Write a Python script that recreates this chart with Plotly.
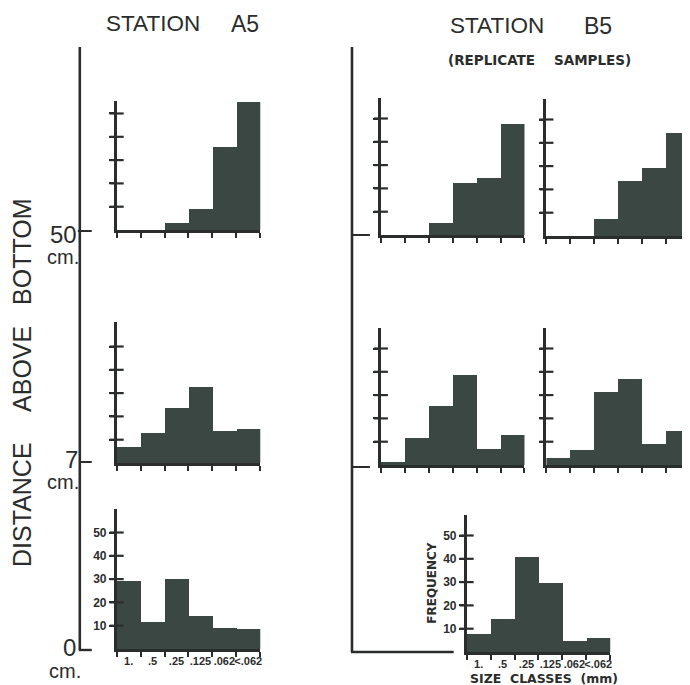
import plotly.graph_objects as go

# ---------------- data ----------------
size_classes = ["1.", ".5", ".25", ".125", ".062", "<.062"]
freq_ticks = [10, 20, 30, 40, 50]
freq_tick_labels = ["10", "20", "30", "40", "50"]

a5_50cm = [0, 0, 3, 9, 35.7, 55]
a5_7cm = [7, 13, 23.6, 32.7, 13.7, 14.6]
a5_0cm = [29, 11.7, 30, 14, 9, 8.5]

b5_50cm_rep1 = [0, 0, 5.3, 22.4, 24.7, 48]
b5_50cm_rep2 = [0, 0, 7.3, 24, 29.3, 44.5]
b5_7cm_rep1 = [1.4, 11.9, 25.7, 39, 6.9, 13.2]
b5_7cm_rep2 = [3.1, 6.7, 31.4, 37.2, 9.3, 15]
b5_0cm = [7.5, 13.9, 40.5, 29.6, 4.7, 6]

height_labels = ["50", "7", "0"]
unit_label = "cm."

# ---------------- layout helpers ----------------
W, H = 690, 685          # page / window size
OFF = 8                  # default body margin of the page
FW, FH = W - OFF, H - OFF
K = 2.33                 # pixels per frequency unit
PW = 144                 # panel width in pixels
INK = "#2b2d2c"
BAR = "#3b4742"
FONT = "Liberation Sans, Arial, sans-serif"
WIDE = "DejaVu Sans, Verdana, sans-serif"


def X(p):
    return (p - OFF) / FW


def Y(p):
    return 1 - (p - OFF) / FH


# panel: (values, left px, bottom px, ymax, show labels)
panels = [
    (a5_50cm, 117, 230, 55.5, False),
    (a5_7cm, 117, 463, 60.5, False),
    (a5_0cm, 117, 649, 60, True),
    (b5_50cm_rep1, 382, 235, 59, False),
    (b5_50cm_rep2, 548, 236, 59, False),
    (b5_7cm_rep1, 382, 465, 59, False),
    (b5_7cm_rep2, 548, 465, 59, False),
    (b5_0cm, 468, 652, 58.6, True),
]

fig = go.Figure()
layout = {}
idx = list(range(len(size_classes)))
bounds = [i - 0.5 for i in range(len(size_classes) + 1)]

for i, (vals, left, bottom, ymax, labeled) in enumerate(panels, start=1):
    right = min(W, left + PW)
    xmax = -0.5 + 6 * (right - left) / PW
    top = bottom - ymax * K
    xa, ya = f"x{i}", f"y{i}"
    fig.add_trace(go.Bar(
        x=idx, y=vals, width=1, xaxis=xa, yaxis=ya,
        marker=dict(color=BAR, line=dict(width=0)),
        hoverinfo="skip", showlegend=False,
    ))
    # crossing tick marks on the frequency axis
    fig.add_trace(go.Scatter(
        x=[-0.5] * len(freq_ticks), y=freq_ticks, xaxis=xa, yaxis=ya,
        mode="markers", cliponaxis=False,
        marker=dict(symbol="line-ew", size=10, line=dict(width=2.2, color=INK)),
        hoverinfo="skip", showlegend=False,
    ))
    layout[f"xaxis{i}"] = dict(
        domain=[X(left), X(right)], anchor=ya, range=[-0.5, xmax],
        showline=True, linecolor=INK, linewidth=2.5,
        tickmode="array", tickvals=idx,
        ticktext=size_classes if labeled else [""] * 6,
        ticks="", tickangle=0, showgrid=False, zeroline=False,
        tickfont=dict(family=FONT, size=11, color=INK, weight="bold"),
        minor=dict(tickmode="array", tickvals=bounds, ticks="outside",
                   ticklen=5, tickwidth=2, tickcolor=INK, showgrid=False),
        fixedrange=True,
    )
    layout[f"yaxis{i}"] = dict(
        domain=[Y(bottom), Y(top)], anchor=xa, range=[0, ymax],
        showline=True, linecolor=INK, linewidth=2.5,
        tickmode="array", tickvals=freq_ticks, ticktext=freq_tick_labels,
        showticklabels=labeled, ticks="outside", ticklen=5, tickwidth=2,
        tickcolor=INK, showgrid=False, zeroline=False,
        tickfont=dict(family=FONT, size=12, color=INK, weight="bold"),
        fixedrange=True,
    )

# ---------------- frame lines ----------------
shapes = []


def seg(x0, y0, x1, y1, w=2.6):
    shapes.append(dict(type="line", xref="paper", yref="paper",
                       x0=X(x0), y0=Y(y0), x1=X(x1), y1=Y(y1),
                       line=dict(color=INK, width=w)))


# Station A5 distance axis
seg(80, 47, 80, 650)
seg(78, 231, 92, 231, 2)
seg(80, 462, 92, 462, 2)
seg(79, 650, 92, 650, 2.4)
# Station B5 distance axis
seg(353, 47, 353, 652)
seg(352, 652, 455, 652, 2.4)
seg(353, 235, 371, 235, 2)
seg(353, 467, 371, 467, 2)

# ---------------- text ----------------
ann = []


def text(t, x, y, size, xanchor="center", yanchor="middle", angle=0,
         bold=False, family=FONT):
    ann.append(dict(text=t, x=X(x), y=Y(y),
                    xref="paper", yref="paper", showarrow=False,
                    xanchor=xanchor, yanchor=yanchor, textangle=angle,
                    borderpad=0,
                    font=dict(family=family, size=size, color=INK,
                              weight="bold" if bold else "normal")))


text("STATION", 105, 24, 22.5, xanchor="left")
text("A5", 231, 24, 23, xanchor="left")
text("STATION", 450, 26, 22.5, xanchor="left")
text("B5", 585, 26, 23, xanchor="left")
text("(REPLICATE", 448, 60, 13.5, xanchor="left", bold=True, family=WIDE)
text("SAMPLES)", 555, 60, 13.5, xanchor="left", bold=True, family=WIDE)

text("BOTTOM", 22, 252, 25, angle=-90)
text("ABOVE", 22, 369, 25, angle=-90)
text("DISTANCE", 22, 504, 25, angle=-90)

text(height_labels[0], 78, 234, 24, xanchor="right")
text(unit_label, 80, 257, 20, xanchor="right")
text(height_labels[1], 79, 459, 24, xanchor="right")
text(unit_label, 80, 482, 20, xanchor="right")
text(height_labels[2], 77, 647, 24, xanchor="right")
text(unit_label, 82, 671, 20, xanchor="right")

text("FREQUENCY", 433, 583, 12, angle=-90, bold=True, family=WIDE)
text("SIZE&nbsp;&nbsp;CLASSES&nbsp;&nbsp;(mm)", 546, 678, 12.5, bold=True, family=WIDE)

layout.update(
    width=FW, height=FH, margin=dict(l=0, r=0, t=0, b=0),
    paper_bgcolor="white", plot_bgcolor="white",
    font=dict(family=FONT, color=INK),
    bargap=0, shapes=shapes, annotations=ann, showlegend=False,
)
fig.update_layout(**layout)
fig.write_html("out.html")
